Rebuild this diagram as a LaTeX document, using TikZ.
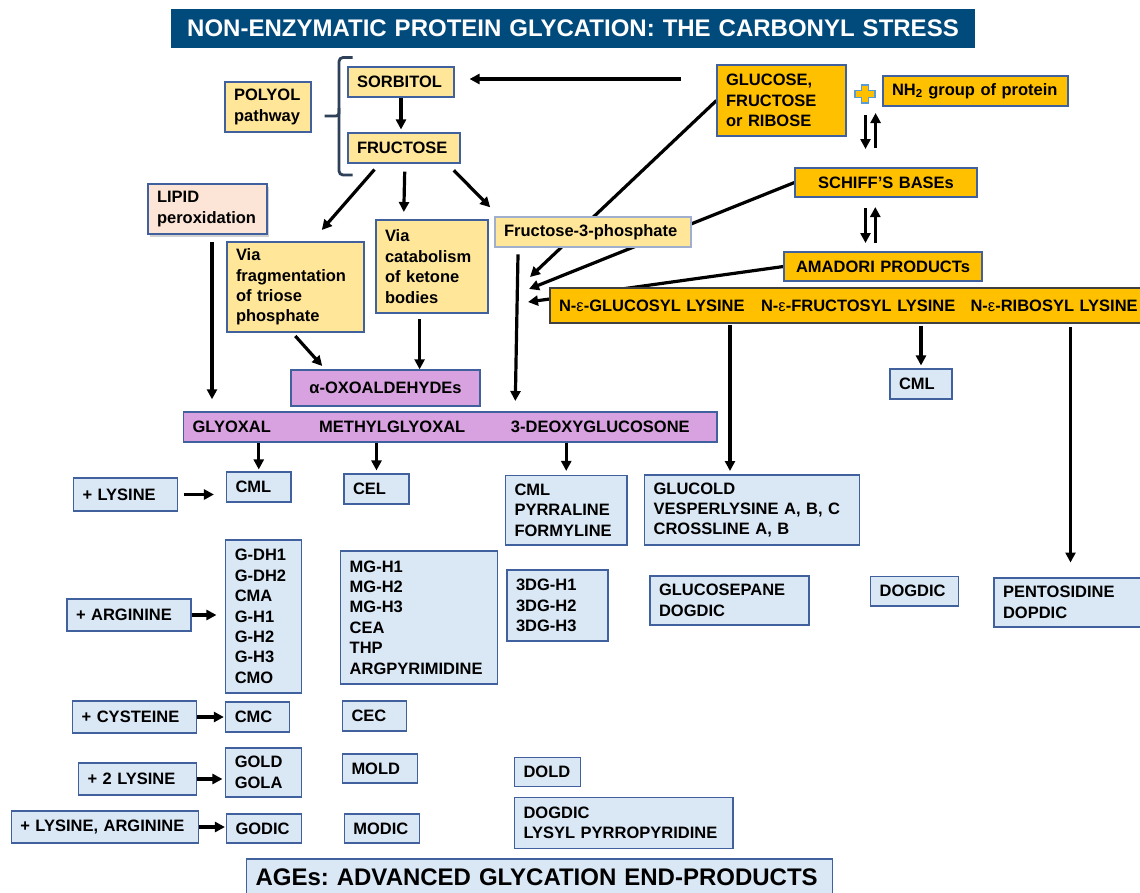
\documentclass[tikz,border=0pt]{standalone}
\usepackage{fontspec}
\setmainfont{Liberation Sans}
\usetikzlibrary{arrows.meta,backgrounds,shadows}
\definecolor{ttl}{HTML}{004A7C}
\definecolor{ylw}{HTML}{FFE699}
\definecolor{org}{HTML}{FFC000}
\definecolor{lbl}{HTML}{DAE7F5}
\definecolor{bord}{HTML}{41609E}
\definecolor{prp}{HTML}{D8A1E0}
\definecolor{pch}{HTML}{FCE4D6}
\definecolor{brc}{HTML}{2F4159}
\definecolor{plusln}{HTML}{5B9BD5}
\newcommand\dfont{\fontsize{16.5}{20.4}\selectfont\bfseries}
\newcommand\tfont{\fontsize{24}{28}\selectfont\bfseries}
\newcommand\mybox[7]{%
  \pgfmathsetmacro\bw{#4-#2}\pgfmathsetmacro\bh{#5-#3}\pgfmathsetmacro\tw{#4-#2-18}%
  \node[#6, minimum width=\bw pt, minimum height=\bh pt, text width=\tw pt] (#1) at ({(#2+#4)/2},{(#3+#5)/2}) {#7};}
\tikzset{
  box/.style={draw=bord, line width=1.1pt, inner xsep=9pt, inner ysep=0pt, align=left, font=\dfont, text=black},
  ybox/.style={box, fill=ylw},
  obox/.style={box, fill=org},
  bbox/.style={box, fill=lbl},
  pbox/.style={box, fill=prp},
  arr/.style={line width=3.2pt, -{Triangle[length=10pt,width=10pt]}},
}
\frenchspacing
\begin{document}
\frenchspacing
\begin{tikzpicture}[x=1pt,y=-1pt]
\clip (0,0) rectangle (1140,892);

% ---------- top part ----------
\mybox{title}{172}{10}{974}{47}{box, fill=ttl, draw=ttl, align=center, font=\tfont, text=white}{NON-ENZYMATIC PROTEIN GLYCATION: THE CARBONYL STRESS}
\mybox{sorbitol}{348}{67}{454}{97}{ybox}{SORBITOL}
\mybox{fructose}{348}{133}{460}{163}{ybox}{FRUCTOSE}
\mybox{polyol}{225}{82}{311}{132}{ybox}{POLYOL\\pathway}
\mybox{lipid}{148}{184}{267}{234}{box, fill=pch, drop shadow={shadow xshift=2pt, shadow yshift=-2.5pt, opacity=0.35}}{LIPID\\peroxidation}
\mybox{viafrag}{227}{242}{364}{332}{ybox}{Via\\fragmentation\\of triose\\phosphate}
\mybox{viacat}{376}{220}{488}{313}{ybox}{Via\\catabolism\\of ketone\\bodies}
\mybox{fthree}{495}{217}{691}{247}{ybox, draw=bord!50}{Fructose-3-phosphate}
\mybox{oxo}{291}{370}{480}{406}{pbox, align=center}{α-OXOALDEHYDEs}
\mybox{bar}{183.6}{412}{717}{442}{pbox}{\makebox[126.6pt][l]{GLYOXAL}\makebox[191.7pt][l]{METHYLGLYOXAL}3-DEOXYGLUCOSONE}
\mybox{glucose}{717}{65}{846}{136}{obox}{GLUCOSE,\\FRUCTOSE\\or RIBOSE}
\mybox{nhtwo}{883}{76}{1068}{106}{obox}{NH\textsubscript{2} group of protein}
\mybox{schiff}{795}{168}{977}{197}{obox, align=center}{SCHIFF’S BASEs}
\mybox{amadori}{784}{252}{982}{281}{obox, align=center}{AMADORI PRODUCTs}
\mybox{neps}{550}{288}{1180}{323}{obox, draw=black!75}{\makebox[202pt][l]{N-{\mdseries ε}-GLUCOSYL LYSINE}\makebox[209.5pt][l]{N-{\mdseries ε}-FRUCTOSYL LYSINE}N-{\mdseries ε}-RIBOSYL LYSINE}
\mybox{cmlr}{890}{369}{952}{399}{bbox}{CML}

% plus sign
\draw[fill=org, draw=plusln, line width=1.2pt] (861.5,85) -- (868.5,85) -- (868.5,90.5) -- (875,90.5) -- (875,97.5) -- (868.5,97.5) -- (868.5,103) -- (861.5,103) -- (861.5,97.5) -- (855,97.5) -- (855,90.5) -- (861.5,90.5) -- cycle;

% brace
\draw[brc, line width=2.8pt, rounded corners=4pt] (352.7,57.5) -- (339,57.5) -- (339,175) -- (352.7,175);
\draw[brc, line width=2.8pt, rounded corners=3pt] (324.7,116) -- (339,116) -- (339,108);

% ---------- lower part ----------
\mybox{plys}{73.5}{478}{177.5}{511}{bbox}{+ LYSINE}
\mybox{cmlone}{226.5}{472}{291}{502}{bbox}{CML}
\mybox{cel}{344}{474}{409}{504}{bbox}{CEL}
\mybox{cmlpf}{505.5}{475.5}{627}{545}{bbox}{CML\\PYRRALINE\\FORMYLINE}
\mybox{glucold}{644.6}{475}{859.6}{545}{bbox}{GLUCOLD\\VESPERLYSINE A, B, C\\CROSSLINE A, B}
\mybox{parg}{67}{599}{191}{631}{bbox}{+ ARGININE}
\mybox{gdh}{225.8}{540}{301.8}{693}{bbox}{G-DH1\\G-DH2\\CMA\\G-H1\\G-H2\\G-H3\\CMO}
\mybox{mgh}{340.7}{551}{497.8}{684}{bbox}{MG-H1\\MG-H2\\MG-H3\\CEA\\THP\\ARGPYRIMIDINE}
\mybox{dgh}{507}{570}{608}{641}{bbox}{3DG-H1\\3DG-H2\\3DG-H3}
\mybox{glucosepane}{650}{576}{809}{625}{bbox}{GLUCOSEPANE\\DOGDIC}
\mybox{dogdicone}{870.6}{576.6}{958.5}{606}{bbox}{DOGDIC}
\mybox{pento}{994}{578}{1150}{627}{bbox}{PENTOSIDINE\\DOPDIC}
\mybox{pcys}{72.7}{701}{196.7}{733}{bbox}{+ CYSTEINE}
\mybox{cmc}{225.8}{702}{289.8}{732}{bbox}{CMC}
\mybox{cec}{342.5}{701}{406.5}{731}{bbox}{CEC}
\mybox{ptwolys}{78.5}{763}{196.7}{795}{bbox}{+ 2 LYSINE}
\mybox{gold}{225.8}{748}{301.8}{797}{bbox}{GOLD\\GOLA}
\mybox{mold}{342.5}{754}{417.8}{783}{bbox}{MOLD}
\mybox{dold}{514.5}{757.6}{580.6}{786.5}{bbox}{DOLD}
\mybox{plysarg}{11.3}{811}{198.5}{843}{bbox}{+ LYSINE, ARGININE}
\mybox{godic}{226.5}{814}{301.5}{843}{bbox}{GODIC}
\mybox{modic}{344.4}{814}{419.6}{843}{bbox}{MODIC}
\mybox{dogdictwo}{514.5}{797.7}{733}{848.5}{bbox}{DOGDIC\\LYSYL PYRROPYRIDINE}
\mybox{ages}{246.5}{859}{832.7}{895}{bbox, font=\tfont}{AGEs: ADVANCED GLYCATION END-PRODUCTS}

% ---------- named free ends ----------
\coordinate (gs) at (681,79);
\coordinate (fa) at (374.5,169.5);  \coordinate (fb) at (321.8,230);
\coordinate (fc) at (404.7,171.7);  \coordinate (fd) at (403.8,212);
\coordinate (fe) at (453.8,170.3);  \coordinate (ff) at (490.2,207.3);
\coordinate (la) at (212,242.3);    \coordinate (lb) at (212,399.3);
\coordinate (va) at (295.3,336);    \coordinate (vb) at (322.2,366);
\coordinate (ca) at (419.6,319.3);  \coordinate (cb) at (419.6,369.3);
\coordinate (pa) at (518,254.3);    \coordinate (pb) at (515.3,401);
\coordinate (ta) at (530,277);      \coordinate (tb) at (529,289);   \coordinate (tc) at (528,302);
\coordinate (na) at (730,325);      \coordinate (nb) at (730,471);
\coordinate (ra) at (1070.5,327);   \coordinate (rb) at (1070.5,562.5);
\coordinate (da) at (865.5,115);    \coordinate (db) at (865.5,149);
\coordinate (dc) at (875.6,148);    \coordinate (dd) at (875.6,113);
\coordinate (de) at (865.5,208);    \coordinate (df) at (865.5,243);
\coordinate (dg) at (875.3,243);    \coordinate (dh) at (875.3,207);

% white page and arrows passing behind boxes
\begin{pgfonlayer}{background}
\fill[white] (0,0) rectangle (1140,892);
\draw[arr] (glucose.west) -- (ta);
\draw[arr] (schiff.west) -- (tb);
\draw[arr] (amadori.west) -- (tc);
\end{pgfonlayer}

% ---------- arrows ----------
\draw[arr, shorten >=15pt] (gs) -- (sorbitol.east |- gs);
\draw[arr, shorten >=3pt] (sorbitol.south) -- (sorbitol.south |- fructose.north);
\draw[arr] (fa) -- (fb);
\draw[arr] (fc) -- (fd);
\draw[arr] (fe) -- (ff);
\draw[arr] (la) -- (lb);
\draw[arr] (va) -- (vb);
\draw[arr] (ca) -- (cb);
\draw[arr] (pa) -- (pb);
\draw[arr] (na) -- (nb);
\draw[arr] (ra) -- (rb);
\draw[arr] (da) -- (db);
\draw[arr] (dc) -- (dd);
\draw[arr] (de) -- (df);
\draw[arr] (dg) -- (dh);
\draw[arr, shorten >=2pt] (cmlone.north |- bar.south) -- (cmlone.north);
\draw[arr, shorten >=3pt] (cel.north |- bar.south) -- (cel.north);
\draw[arr, shorten >=4pt] (cmlpf.north |- bar.south) -- (cmlpf.north);
\draw[arr, shorten >=3pt, shorten <=2pt] (cmlr.north |- neps.south) -- (cmlr.north);
\draw[arr, shorten <=5.5pt, shorten >=12pt] (plys.east) -- (plys.east -| cmlone.west);
\draw[arr, shorten >=8.8pt] (parg.east) -- (parg.east -| gdh.west);
\draw[arr, shorten >=1.4pt] (pcys.east) -- (pcys.east -| cmc.west);
\draw[arr, shorten >=2.8pt] (ptwolys.east) -- (ptwolys.east -| gold.west);
\draw[arr, shorten >=1pt] (plysarg.east) -- (plysarg.east -| godic.west);
\end{tikzpicture}
\end{document}
